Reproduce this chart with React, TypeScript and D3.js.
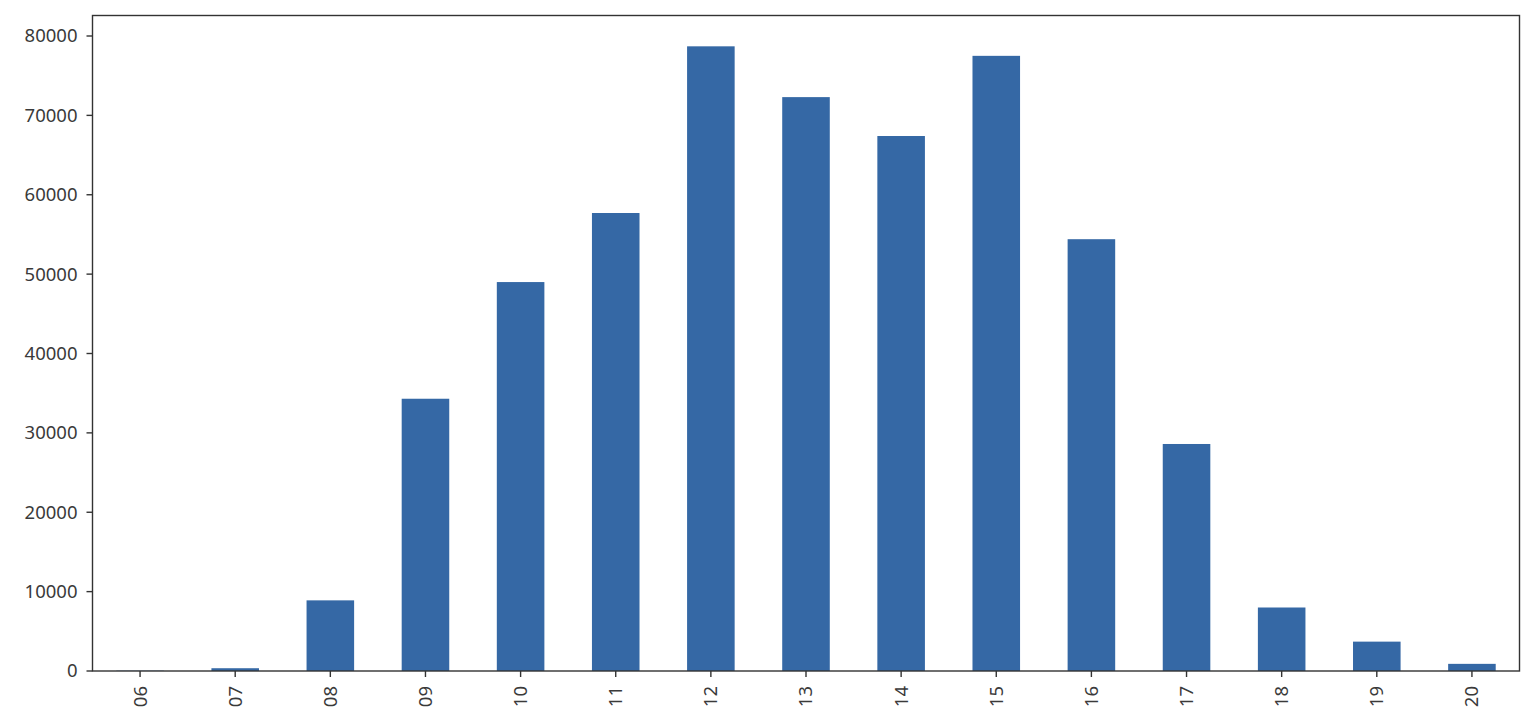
import React from "react";
import * as d3 from "d3";

const categories = ["06", "07", "08", "09", "10", "11", "12", "13", "14", "15", "16", "17", "18", "19", "20"];
const values = [40, 350, 8900, 34300, 49000, 57700, 78700, 72300, 67400, 77500, 54400, 28600, 8000, 3700, 900];
const yTicks = [0, 10000, 20000, 30000, 40000, 50000, 60000, 70000, 80000];

const W = 1536;
const H = 718;
const left = 92.5;
const right = 1519.5;
const top = 15.5;
const bottom = 671;

export default function App() {
  const x = d3.scaleBand<string>().domain(categories).range([left, right]).paddingInner(0.5).paddingOuter(0.25);
  const y = d3.scaleLinear().domain([0, 80000 * (bottom - top) / (bottom - 36)]).range([bottom, top]);
  const font = "'Noto Sans', 'Open Sans', sans-serif";
  const textColor = "#3a3a3a";
  const fs = 18.5;
  return (
    <svg width={W} height={H} style={{ position: "absolute", left: 0, top: 0, background: "#fff" }}>
      {categories.map((c, i) => (
        <rect key={c} x={x(c)} y={y(values[i])} width={x.bandwidth()} height={bottom - y(values[i])} fill="#3568a5" />
      ))}
      <rect x={left} y={top} width={right - left} height={bottom - top} fill="none" stroke="#333" strokeWidth={1.4} />
      {yTicks.map((t) => (
        <g key={t} transform={`translate(0,${y(t)})`}>
          <line x1={left - 6} x2={left} stroke="#333" strokeWidth={1.4} />
          <text x={left - 15} dy="0.35em" textAnchor="end" fontFamily={font} fontSize={fs} fill={textColor}>
            {t}
          </text>
        </g>
      ))}
      {categories.map((c) => {
        const cx = (x(c) as number) + x.bandwidth() / 2;
        return (
          <g key={c}>
            <line x1={cx} x2={cx} y1={bottom} y2={bottom + 6} stroke="#333" strokeWidth={1.4} />
            <text
              transform={`translate(${cx},${bottom + 15}) rotate(-90)`}
              dy="0.35em"
              textAnchor="end"
              fontFamily={font}
              fontSize={fs}
              fill={textColor}
            >
              {c}
            </text>
          </g>
        );
      })}
    </svg>
  );
}
